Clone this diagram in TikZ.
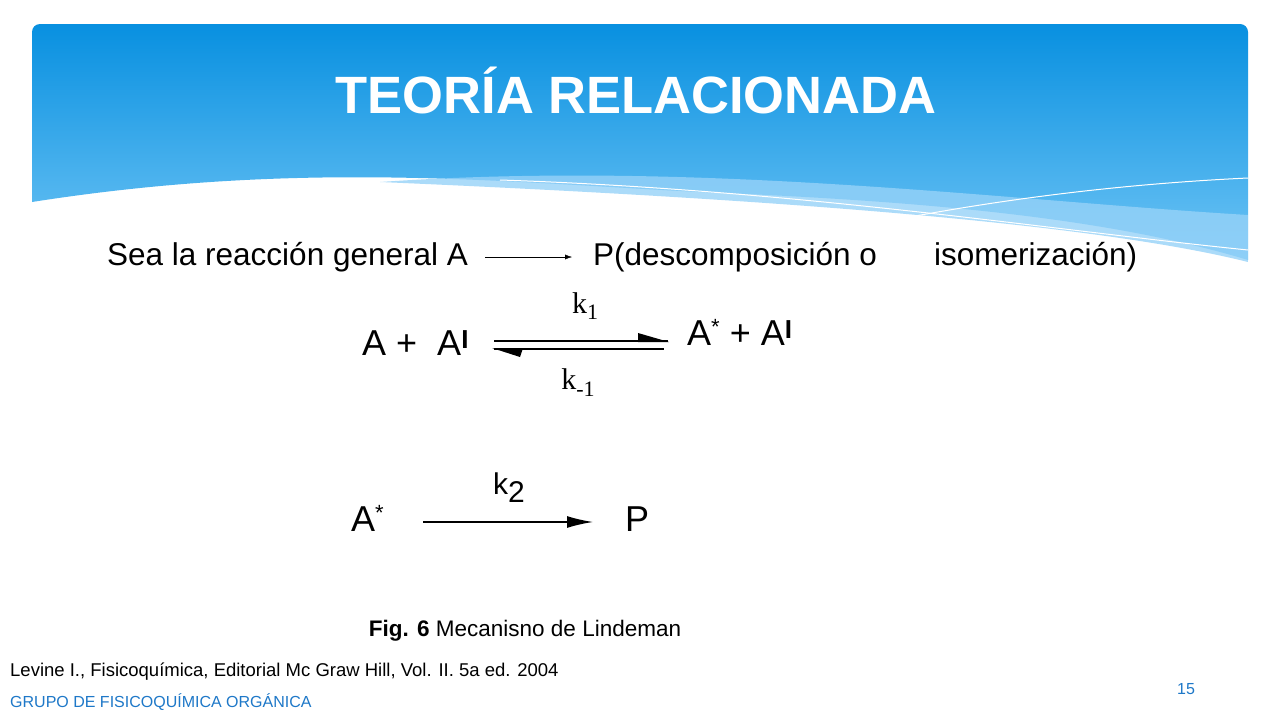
\documentclass[tikz,border=0pt]{standalone}
\usepackage{fontspec}
\setmainfont{Liberation Sans}
\newfontfamily\kserif{Liberation Serif}
\usetikzlibrary{arrows.meta}
\definecolor{bannertop}{RGB}{8,144,224}
\definecolor{bannerbot}{RGB}{110,196,245}
\definecolor{wavelight}{RGB}{150,210,248}
\definecolor{footblue}{RGB}{30,120,200}
\newcommand{\primebar}{\raisebox{7pt}{\fontsize{26}{26}\selectfont\textbf{I}}}
\newcommand{\astx}{\raisebox{11pt}{\fontsize{22}{22}\selectfont *}}
\begin{document}
\begin{tikzpicture}[x=1pt,y=-1pt,
  lbl/.style={inner sep=0pt,anchor=base},
  chem/.style={inner sep=0pt,anchor=base,font=\fontsize{36}{36}\selectfont},
  kk/.style={inner sep=0pt,anchor=base,font=\fontsize{30}{30}\selectfont\kserif}]
\useasboundingbox (0,0) rectangle (1280,720);
\fill[white] (0,0) rectangle (1280,720);
% banner
\begin{scope}
\clip[rounded corners=8] (32,24) rectangle (1248,300);
\shade[top color=bannertop, bottom color=bannerbot]
  (32,24) -- (1248,24) -- (1248,260) .. controls (1100,215) and (900,200) .. (700,192)
  .. controls (500,182) and (300,160) .. (32,202) -- cycle;
\fill[wavelight,opacity=0.8] (380,182) .. controls (700,160) and (1000,200) .. (1248,215) -- (1248,262) .. controls (1100,225) and (800,200) .. (380,182) -- cycle;
\draw[white,line width=1pt] (500,180) .. controls (800,190) and (1050,230) .. (1248,250);
\draw[white,line width=1pt] (800,240) .. controls (950,205) and (1100,185) .. (1248,178);
\end{scope}
\node[lbl,white,font=\bfseries\fontsize{52.5}{52.5}\selectfont] (title) at (636,113) {TEORÍA RELACIONADA};
% sentence
\node[lbl,anchor=base west,font=\fontsize{31.5}{31.5}\selectfont] (s1) at (107,265) {Sea la reacción general A};
\coordinate (a1) at (485,257);
\coordinate (a2) at (572,257);
\draw[-{Latex[length=7pt,width=5pt]}] (a1) -- (a2);
\node[lbl,anchor=base west,font=\fontsize{31.5}{31.5}\selectfont] (s2) at (593,265) {P(descomposición o};
\node[lbl,anchor=base west,font=\fontsize{31.5}{31.5}\selectfont] (s3) at (934,265) {isomerización)};
% mechanism
\node[chem,anchor=base west] (r1) at (362,355) {A +\ \ A\primebar};
\node[chem,anchor=base west] (p1) at (687,345) {A\astx\ + A\primebar};
\coordinate (h1) at (494,341); \coordinate (h2) at (668,341);
\coordinate (g1) at (494,349); \coordinate (g2) at (664,349);
\draw[line width=1.5pt] (h1) -- (h2);
\fill (669,342) -- (638,342) -- (638,333) -- cycle;
\draw[line width=1.5pt] (g1) -- (g2);
\fill (492,348) -- (523,348) -- (520,357) -- cycle;
\node[kk] (k1) at (585,313) {k\raisebox{-6pt}{\fontsize{22}{22}\selectfont 1}};
\node[kk] (km1) at (578,389) {k\raisebox{-7pt}{\fontsize{22}{22}\selectfont -1}};
\node[chem,anchor=base west] (r2) at (351,531) {A\astx};
\node[chem,anchor=base west] (p2) at (625,531) {P};
\coordinate (b1) at (423,522); \coordinate (b2) at (593,522);
\draw[line width=1.5pt,-{Latex[length=26pt,width=12pt]}] (b1) -- (b2);
\node[chem,anchor=base,font=\fontsize{30}{30}\selectfont] (k2) at (509,494) {k\raisebox{-8pt}{2}};
% captions
\node[lbl,anchor=base,font=\fontsize{22.5}{22.5}\selectfont] (fig) at (525,636) {\textbf{Fig. 6} Mecanisno de Lindeman};
\node[lbl,anchor=base west,font=\fontsize{18.5}{18.5}\selectfont] (ref) at (10,676) {Levine I., Fisicoquímica, Editorial Mc Graw Hill, Vol. II. 5a ed. 2004};
\node[lbl,anchor=base west,font=\fontsize{16}{16}\selectfont,text=footblue] (grp) at (10,707) {GRUPO DE FISICOQUÍMICA ORGÁNICA};
\node[lbl,font=\fontsize{16}{16}\selectfont,text=footblue] (num) at (1186,694) {15};
\end{tikzpicture}
\end{document}
